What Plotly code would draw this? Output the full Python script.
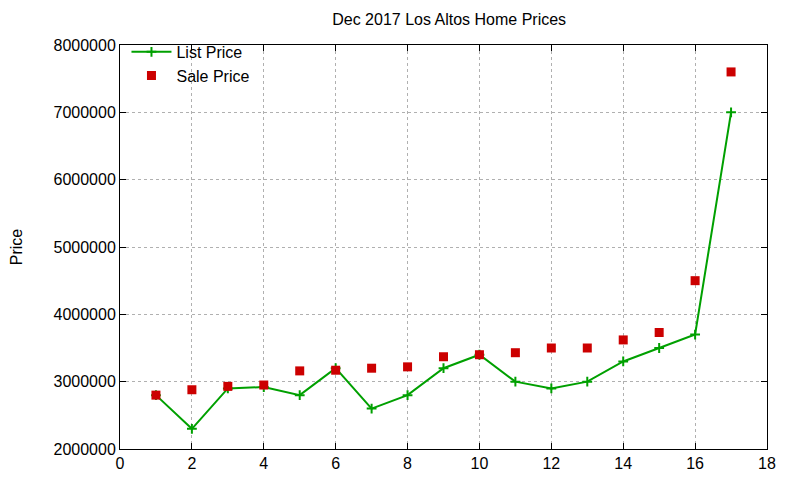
import plotly.graph_objects as go

# -- Home index (x axis) and prices
homes = list(range(1, 18))
list_price = [2800000, 2300000, 2900000, 2920000, 2800000, 3200000, 2600000, 2800000, 3200000,
              3400000, 3000000, 2900000, 3000000, 3300000, 3500000, 3700000, 7000000]
sale_price = [2800000, 2880000, 2930000, 2950000, 3160000, 3170000, 3200000, 3220000, 3370000,
              3400000, 3430000, 3500000, 3500000, 3620000, 3730000, 4500000, 7600000]

x_ticks = list(range(0, 20, 2))
y_ticks = list(range(2000000, 9000000, 1000000))

fig = go.Figure()
fig.add_trace(go.Scatter(
    x=homes, y=list_price, mode="lines+markers", name="List Price",
    line=dict(color="#00a000", width=2),
    marker=dict(symbol="cross-thin", size=7, line=dict(color="#00a000", width=2)),
))
fig.add_trace(go.Scatter(
    x=homes, y=sale_price, mode="markers", name="Sale Price",
    marker=dict(symbol="square", size=9, color="#cc0000"),
))

axis_style = dict(
    showline=True, linecolor="black", linewidth=1, mirror="allticks",
    ticks="inside", ticklen=6, tickcolor="black",
    showgrid=True, gridcolor="#b0b0b0", griddash="dot", gridwidth=1,
    zeroline=False, tickfont=dict(size=16, color="black"), automargin=False,
)

fig.update_xaxes(range=[0, 18], tickvals=x_ticks, **axis_style)
fig.update_yaxes(range=[2000000, 8000000], tickvals=y_ticks, ticktext=[str(v) for v in y_ticks],
                 title=dict(text="Price", font=dict(size=16, color="black"), standoff=30), **axis_style)

# the page body adds an 8px offset, so the figure is a little smaller than the window
fig.update_layout(
    width=792, height=472,
    margin=dict(l=112, r=33, t=37, b=31),
    paper_bgcolor="white", plot_bgcolor="white",
    font=dict(family="Liberation Sans, Arial, sans-serif", size=16, color="black"),
    title=dict(text="Dec 2017 Los Altos Home Prices", x=0.557, xanchor="center",
               y=0.975, yanchor="middle", font=dict(size=16, color="black")),
    legend=dict(x=0.01, y=1.025, xanchor="left", yanchor="top", bgcolor="rgba(0,0,0,0)",
                font=dict(size=16), tracegroupgap=0, itemwidth=40),
    showlegend=True,
)

fig.write_html("out.html")
